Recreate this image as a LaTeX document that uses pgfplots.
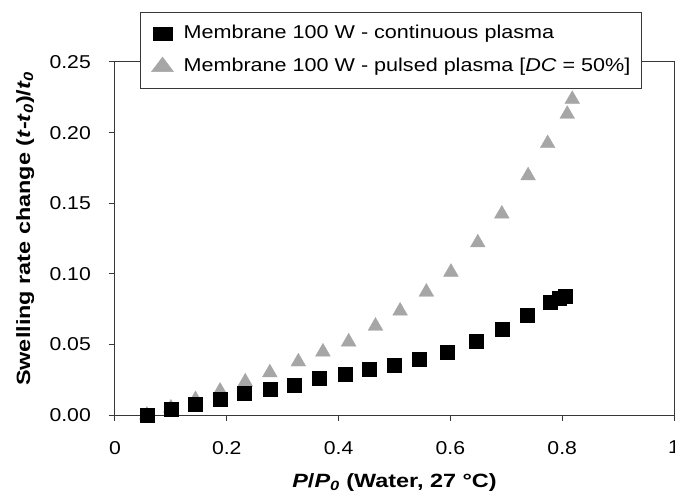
\documentclass[border=0pt]{standalone}
\usepackage{pgfplots}
\pgfplotsset{compat=1.18}
\usepackage{fontspec}
\setmainfont{Liberation Sans}[FakeStretch=1.14]
\newfontfamily\labfont{Liberation Sans}[FakeStretch=1.22]
\newfontfamily\legfont{Liberation Sans}[FakeStretch=1.16]
\definecolor{tri}{RGB}{166,166,166}
\definecolor{axgray}{RGB}{55,55,55}
\newcommand{\tickfont}{\fontsize{18.6bp}{22bp}\selectfont}
\begin{document}
\begin{tikzpicture}
  \begin{axis}[
    name=ax,
    scale only axis,
    width=559bp, height=353bp,
    xmin=0, xmax=1, ymin=0, ymax=0.25,
    xtick={0,0.2,0.4,0.6,0.8,1},
    ytick={0,0.05,0.1,0.15,0.2,0.25},
    clip=false,
    axis line style={axgray, line width=1bp},
    every tick/.style={axgray, line width=1bp},
    tick align=outside, major tick length=6bp,
    xtick pos=bottom, ytick pos=left,
    /pgf/number format/assume math mode=true,
    tick label style={font=\tickfont, inner sep=0pt},
    yticklabel style={/pgf/number format/fixed,
      /pgf/number format/fixed zerofill,
      /pgf/number format/precision=2,
      anchor=east, xshift=-18bp},
    xticklabel style={anchor=north, yshift=-20bp},
    xlabel={\textit{P}/\textit{P}\textsubscript{\textit{0}} (Water, 27 °C)},
    xlabel style={at={(axis description cs:0.5,0)}, anchor=base,
      yshift=-72bp, inner sep=0pt,
      font={\fontsize{19.2bp}{23bp}\selectfont\labfont\bfseries}},
    ylabel={Swelling rate change (\textit{t}-\textit{t}\textsubscript{\textit{0}})/\textit{t}\textsubscript{\textit{0}}},
    ylabel style={at={(axis description cs:-0.152,0.528)}, anchor=base,
      inner sep=0pt,
      font={\fontsize{19.2bp}{23bp}\selectfont\labfont\bfseries}},
    legend cell align=left,
    legend style={at={(axis description cs:0.0447,1.1416)},
      anchor=north west, draw=axgray, line width=1bp, fill=white,
      inner xsep=11bp, inner ysep=12.5bp,
      row sep=14.4bp, column sep=10bp,
      nodes={inner sep=0pt, text height=13.6bp, text depth=4bp},
      font={\fontsize{18.6bp}{22bp}\selectfont\legfont}},
    legend image code/.code={
      \path[draw=none, fill=none] (0bp,0bp) (22bp,0bp);
      \draw[line width=0.4pt,#1] plot coordinates {(11bp,0bp)};},
  ]
    % legend entries; squares are plotted last so they sit on top
    \addlegendimage{only marks, mark=square*, mark size=7bp, black,
      mark options={xscale=1.4, yscale=0.95}}
    \addlegendentry{Membrane 100 W - continuous plasma}
    \addlegendimage{only marks, mark=triangle*, mark size=8.5bp, color=tri,
      mark options={xscale=1.5, yscale=1.15}}
    \addlegendentry{Membrane 100 W - pulsed plasma [\textit{DC} = 50\%]}

    % pulsed plasma
    \addplot[only marks, mark=triangle*, mark size=8.5bp, color=tri, forget plot] coordinates {
      (0.057, 0.000)
      (0.100, 0.005)
      (0.144, 0.011)
      (0.188, 0.017)
      (0.233, 0.0235)
      (0.277, 0.030)
      (0.328, 0.0377)
      (0.372, 0.0447)
      (0.418, 0.0518)
      (0.466, 0.063)
      (0.510, 0.0737)
      (0.557, 0.0871)
      (0.601, 0.1012)
      (0.649, 0.122)
      (0.692, 0.1424)
      (0.739, 0.1695)
      (0.774, 0.1923)
      (0.809, 0.213)
      (0.818, 0.2236)
    };

    % continuous plasma
    \addplot[only marks, mark=square*, mark size=7bp, black, forget plot] coordinates {
      (0.057, 0.000)
      (0.100, 0.0042)
      (0.144, 0.008)
      (0.188, 0.0115)
      (0.231, 0.0153)
      (0.277, 0.0184)
      (0.321, 0.0212)
      (0.365, 0.0259)
      (0.411, 0.0292)
      (0.455, 0.0325)
      (0.500, 0.0353)
      (0.544, 0.0398)
      (0.594, 0.0447)
      (0.646, 0.0525)
      (0.692, 0.0607)
      (0.738, 0.0706)
      (0.779, 0.0796)
      (0.794, 0.0829)
      (0.806, 0.0843)
    };
  \end{axis}
  \pgfresetboundingbox
  \path[use as bounding box] ([shift={(-115bp,-81bp)}]ax.south west)
    rectangle ([shift={(1bp,62bp)}]ax.north east);
\end{tikzpicture}
\end{document}
